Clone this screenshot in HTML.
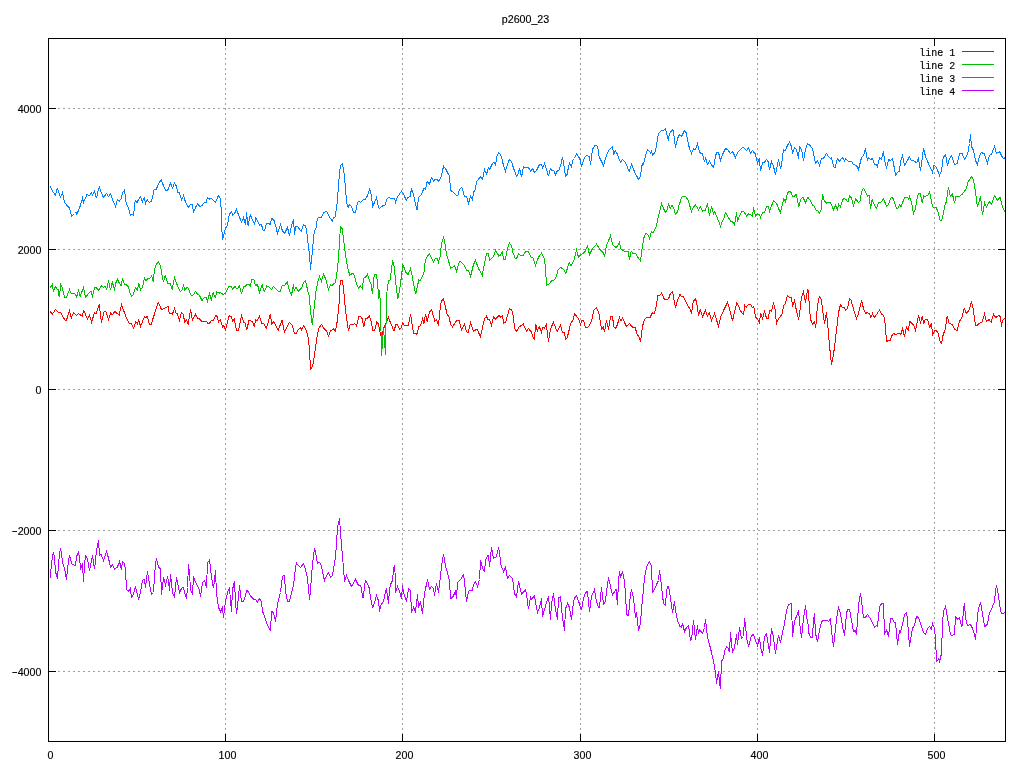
<!DOCTYPE html>
<html lang="en"><head><meta charset="utf-8"><title>p2600_23</title>
<style>
html,body{margin:0;padding:0;background:#fff;}
body{width:1024px;height:768px;overflow:hidden;position:relative;font-family:"Liberation Sans",sans-serif;}
svg{position:absolute;left:0;top:0;display:block;}
.t{font-family:"Liberation Sans",sans-serif;font-size:10.67px;fill:#000;stroke:#000;stroke-width:0.15px;}
.k{font-family:"Liberation Mono",monospace;font-size:10px;fill:#000;stroke:#000;stroke-width:0.15px;}
</style></head><body>
<svg width="1024" height="768" viewBox="0 0 1024 768" role="img" aria-label="p2600_23 line chart">
<rect x="0" y="0" width="1024" height="768" fill="#fff"/>
<g id="grid" stroke="#a0a0a0" stroke-width="1" stroke-dasharray="2 3" shape-rendering="crispEdges" fill="none">
<line x1="225.5" y1="38.0" x2="225.5" y2="741.0"/>
<line x1="402.5" y1="38.0" x2="402.5" y2="741.0"/>
<line x1="580.5" y1="38.0" x2="580.5" y2="741.0"/>
<line x1="757.5" y1="38.0" x2="757.5" y2="741.0"/>
<line x1="934.5" y1="97.0" x2="934.5" y2="741.0"/>
<line x1="48.0" y1="108.5" x2="1005.0" y2="108.5"/>
<line x1="48.0" y1="249.5" x2="1005.0" y2="249.5"/>
<line x1="48.0" y1="389.5" x2="1005.0" y2="389.5"/>
<line x1="48.0" y1="530.5" x2="1005.0" y2="530.5"/>
<line x1="48.0" y1="671.5" x2="1005.0" y2="671.5"/>
</g>
<g id="series" shape-rendering="crispEdges">
<polyline fill="none" stroke="#ff0000" stroke-width="1" stroke-linejoin="miter" points="50.2,311.0 52.2,314.4 55.5,309.5 58.2,312.2 60.8,312.8 65.0,320.2 66.5,320.2 69.5,310.5 71.2,318.2 73.5,312.8 76.5,315.2 78.5,313.5 82.2,316.2 83.8,310.5 87.5,319.2 89.5,314.8 91.5,322.2 94.5,312.8 96.2,313.8 99.2,304.5 101.5,322.5 104.2,311.5 105.8,311.8 108.5,319.5 110.8,312.8 112.2,315.0 114.8,311.5 119.2,315.2 121.5,304.5 126.2,317.5 129.2,323.2 131.2,323.8 133.5,328.2 135.8,321.5 137.5,323.8 138.8,319.8 140.5,326.5 144.5,316.8 145.8,317.5 147.2,316.5 149.5,324.2 151.2,324.2 158.2,302.5 161.5,309.5 165.0,308.0 168.5,306.5 169.2,314.0 171.0,312.8 172.5,314.0 174.5,308.5 176.2,313.5 177.5,314.0 179.5,320.5 181.2,312.8 183.0,313.5 184.8,322.2 186.5,319.8 188.2,324.0 190.5,309.5 192.5,320.2 195.5,314.5 197.8,318.8 199.2,318.5 201.5,321.2 206.5,321.2 208.0,323.5 209.5,323.2 211.5,320.5 213.2,320.8 215.8,315.5 217.0,316.5 218.5,321.8 220.2,319.8 222.8,327.0 223.8,325.8 225.5,329.5 229.2,315.8 231.2,316.5 232.8,321.5 234.2,319.0 236.5,330.2 238.5,330.2 241.5,315.5 243.8,322.5 245.0,322.8 246.8,330.2 248.8,320.8 252.5,321.2 254.2,326.0 255.8,320.0 257.2,320.5 259.5,316.5 261.8,323.2 264.0,324.0 266.5,328.2 270.2,314.5 271.8,323.8 273.2,321.5 275.0,323.8 278.2,330.2 282.0,320.5 284.5,332.2 289.2,322.5 292.0,325.0 294.5,333.2 296.0,333.5 298.0,330.0 300.5,327.5 301.8,330.0 303.5,325.5 305.8,329.5 307.5,334.0 308.8,342.5 309.5,350.0 310.5,369.5 312.8,365.5 314.5,355.0 315.8,345.0 317.5,333.8 319.0,328.0 321.5,324.5 323.8,328.2 326.5,331.0 328.5,336.0 330.5,331.0 333.5,328.8 335.5,331.0 337.2,321.5 339.2,302.5 340.2,280.5 342.5,280.5 343.8,291.2 345.2,307.5 346.5,317.5 348.5,331.0 350.0,324.8 353.0,324.5 354.8,323.8 356.5,325.8 358.8,316.5 360.8,316.8 362.2,318.8 363.8,327.0 365.5,318.2 367.2,318.8 369.2,315.8 371.0,321.2 372.8,330.2 374.5,330.8 376.8,321.8 378.5,324.2 380.0,332.0 381.5,338.0 383.5,328.8 385.5,323.8 388.5,317.5 391.2,324.5 394.0,331.0 396.0,324.2 397.5,324.8 399.5,329.2 401.0,328.0 402.5,323.0 404.2,325.2 408.5,325.2 410.5,313.8 411.8,322.5 413.5,333.0 416.8,334.2 419.0,326.5 420.5,325.5 422.5,319.0 424.0,323.5 425.5,313.8 427.2,321.5 429.5,312.2 431.5,309.5 433.0,315.0 434.8,320.8 436.5,319.5 438.5,325.5 440.5,305.0 441.5,301.2 443.5,298.5 444.8,304.0 447.0,314.0 449.0,317.2 450.8,324.8 452.5,326.8 456.8,320.2 459.2,320.5 461.5,330.2 464.5,324.5 466.5,331.5 468.2,332.5 470.5,322.5 473.5,331.0 477.0,329.2 480.5,336.5 484.5,318.8 486.5,316.2 488.0,319.8 489.5,320.0 491.5,325.2 493.5,316.8 495.2,319.2 498.8,315.5 500.8,317.2 502.2,315.5 503.8,323.2 505.5,322.5 509.5,308.5 511.5,309.8 512.8,313.8 514.8,328.8 516.5,331.5 519.0,327.2 523.2,324.0 526.5,331.2 528.5,328.5 531.2,331.8 534.2,339.8 535.8,324.5 537.2,331.0 539.2,326.5 541.5,332.2 542.8,327.2 544.5,328.0 546.2,324.5 548.5,341.5 550.5,328.8 552.0,325.5 553.5,322.5 557.2,331.5 560.5,325.5 562.5,332.2 564.2,332.5 565.8,339.5 567.2,337.8 570.8,323.2 573.0,320.2 574.5,313.5 578.5,319.0 580.5,324.5 582.0,320.2 583.5,320.8 585.5,327.2 587.2,327.8 589.5,325.2 591.5,321.0 593.8,310.5 596.5,307.5 599.0,313.8 601.5,329.2 603.2,327.2 604.5,331.5 606.5,320.2 608.5,329.5 610.5,316.5 612.5,316.5 613.8,326.5 615.5,328.5 617.2,325.2 619.5,317.5 621.0,320.8 622.5,318.2 626.5,326.5 629.5,323.5 633.2,328.0 635.2,327.5 637.0,334.0 639.0,337.0 640.5,341.5 642.5,326.5 644.2,320.0 646.5,317.5 650.2,317.2 652.5,312.5 654.0,314.2 655.5,310.0 658.0,295.5 659.2,296.0 661.5,293.2 664.5,299.5 668.5,299.0 670.2,294.0 672.5,291.5 675.5,307.5 678.0,298.8 680.0,294.5 681.5,296.8 683.0,295.8 685.0,299.8 688.2,306.5 690.5,309.5 691.5,313.5 693.2,301.5 695.5,298.5 696.8,303.5 698.5,315.5 700.2,309.5 702.5,316.5 705.5,310.5 707.5,316.2 709.5,312.8 711.5,320.5 714.5,313.5 716.2,318.8 718.5,326.5 720.5,317.5 723.5,310.5 727.5,302.5 729.2,307.5 732.5,320.5 734.8,311.2 736.8,303.2 738.2,305.0 740.2,310.5 743.5,314.5 744.8,305.5 746.2,307.2 748.5,304.2 750.5,304.2 752.5,307.8 753.8,306.5 755.5,317.2 757.5,319.2 759.2,322.5 760.8,313.5 762.5,318.5 764.5,311.5 766.5,318.2 768.2,318.5 769.8,310.5 771.5,311.2 773.5,303.5 774.8,307.2 776.5,323.5 778.8,318.5 782.2,313.8 783.8,305.2 785.5,303.5 787.5,295.5 789.2,297.2 791.2,297.5 792.8,305.5 794.5,300.5 796.0,308.5 798.5,319.5 799.8,312.5 800.8,302.5 802.2,295.0 803.5,291.8 805.5,302.5 807.5,290.0 808.5,291.2 809.5,310.0 810.8,320.0 812.5,324.2 814.5,321.5 815.8,327.5 816.8,312.5 818.2,301.2 819.5,296.5 821.2,299.2 822.5,308.8 824.5,324.2 826.5,312.5 827.5,322.5 828.8,337.5 830.2,352.5 831.5,364.5 833.2,356.2 834.8,345.0 836.5,330.0 838.5,312.5 840.5,304.5 842.2,307.0 844.2,307.5 845.8,310.5 847.5,308.5 849.5,298.5 851.2,300.5 854.5,313.0 856.5,318.5 858.5,313.5 861.5,300.5 863.8,309.5 865.5,313.2 867.5,312.8 869.5,314.0 870.8,317.5 872.5,313.5 874.2,317.5 876.5,314.5 879.5,310.2 881.8,314.2 883.8,315.5 885.0,322.5 886.5,341.2 890.2,340.5 892.0,335.5 893.5,333.5 895.5,334.5 899.2,333.5 900.8,334.2 902.5,328.5 904.5,336.5 906.5,326.8 908.2,329.8 909.8,321.5 913.5,324.8 915.5,330.5 918.5,315.5 920.5,322.5 922.2,316.5 923.8,323.2 925.2,319.5 927.5,319.5 929.8,327.2 931.5,322.8 932.5,335.5 934.5,331.0 936.2,330.2 938.2,333.5 940.0,341.2 941.5,343.5 943.2,334.5 945.2,329.5 947.2,316.2 949.2,323.2 952.2,324.5 954.5,329.0 957.2,330.5 959.5,321.2 961.5,318.5 964.2,308.2 966.2,313.5 969.2,310.0 971.5,301.5 973.2,308.8 975.5,325.5 977.5,325.2 979.2,323.2 982.0,322.5 984.5,314.2 986.5,321.5 989.0,319.5 991.2,322.2 993.5,314.2 995.8,317.5 998.8,315.5 1000.5,317.0 1001.5,326.5 1002.5,320.2 1005.0,318.2"/>
<polyline fill="none" stroke="#00c000" stroke-width="1" stroke-linejoin="miter" points="50.2,288.0 52.2,284.5 53.5,291.0 55.2,286.2 56.8,289.0 58.2,289.5 59.2,297.2 60.8,284.5 62.2,287.5 64.5,297.0 66.5,297.0 69.5,289.5 71.5,293.8 75.0,293.8 76.5,297.2 78.5,290.5 80.2,296.5 83.5,287.5 85.5,297.2 89.2,292.8 91.0,291.5 92.5,296.2 94.5,287.5 96.2,287.5 98.5,290.2 101.2,285.8 103.5,287.2 105.0,286.5 106.8,289.2 108.5,280.5 110.5,290.2 112.2,282.0 114.5,289.2 115.8,283.0 117.5,279.5 121.0,286.2 122.5,278.0 124.5,284.5 126.2,284.8 128.2,286.5 130.0,292.8 131.8,296.5 133.5,294.0 135.5,287.5 137.2,290.0 138.8,283.8 140.5,289.8 142.5,287.5 144.5,278.0 145.8,280.8 147.5,278.8 149.5,278.5 151.8,275.8 153.2,282.0 154.5,268.8 156.5,264.2 158.5,262.2 160.5,266.2 162.0,275.2 163.5,282.2 165.2,274.8 167.5,283.2 169.8,283.0 172.2,289.2 174.5,277.8 176.2,282.5 178.2,287.5 180.2,291.5 181.8,290.5 183.5,285.8 184.8,289.8 187.2,287.5 188.5,288.2 190.8,295.0 193.0,295.2 195.5,291.5 197.8,294.5 199.5,295.5 202.0,300.5 204.2,297.5 206.0,297.5 207.5,301.2 209.5,293.5 211.2,300.0 213.2,292.8 215.2,297.5 216.8,291.8 219.0,293.2 220.5,292.5 222.8,294.2 225.0,293.8 229.0,286.5 231.0,286.5 232.5,289.2 234.8,286.5 236.5,288.2 238.0,288.2 239.5,285.8 241.5,294.2 243.5,287.0 245.0,286.5 247.0,284.2 248.8,284.2 250.2,286.0 252.0,279.2 253.8,279.2 255.5,285.5 257.5,284.5 259.5,292.5 262.2,284.8 264.2,291.8 266.8,285.8 268.5,286.5 271.5,289.5 273.5,286.5 275.8,288.5 278.5,291.5 280.5,291.2 282.2,285.2 284.2,286.0 287.2,281.8 289.5,290.5 291.5,295.2 293.5,284.5 294.2,290.5 295.5,288.5 296.0,287.2 298.2,291.2 301.5,288.2 303.5,282.8 305.5,280.5 307.5,289.8 309.2,296.0 310.5,311.0 312.2,325.0 314.5,304.8 316.0,291.0 317.5,283.0 319.5,276.5 321.5,281.2 323.5,274.2 326.0,279.8 328.5,289.5 330.5,285.0 332.2,285.2 335.5,282.5 337.2,271.0 338.5,258.5 339.5,241.0 340.5,226.5 342.0,228.5 343.2,236.0 344.5,247.2 346.5,261.0 348.5,271.0 349.8,274.8 353.0,273.2 354.5,276.2 356.5,283.5 358.5,288.2 360.5,286.2 362.2,288.5 363.8,278.2 365.5,277.2 367.5,274.2 369.5,281.0 371.2,284.5 372.5,294.2 374.2,274.5 376.5,274.5 377.8,286.0 378.8,298.5 379.5,289.8 380.5,305.0 381.5,355.8 383.5,328.5 385.5,354.8 386.5,296.0 387.5,287.2 388.5,281.0 390.2,280.0 392.5,260.5 394.2,266.8 395.8,283.5 397.8,298.5 399.5,291.0 401.8,273.5 402.8,264.2 405.8,272.2 408.0,274.5 410.5,268.5 412.2,276.0 414.0,286.0 415.8,294.2 417.5,286.0 418.8,279.8 420.5,280.5 424.0,272.5 425.2,261.0 427.5,256.2 429.5,254.2 431.5,257.8 433.5,262.2 435.2,258.8 437.0,258.5 438.5,262.2 440.2,256.0 441.5,243.5 443.5,237.2 444.8,242.2 446.5,254.8 448.5,260.5 450.5,268.2 452.5,267.2 454.5,265.5 456.5,271.2 459.5,261.2 461.5,262.5 463.5,264.2 466.5,270.0 468.5,270.8 470.5,276.5 473.5,264.5 475.5,260.5 478.5,268.5 482.2,275.5 484.5,263.5 486.5,253.2 488.5,253.2 489.5,260.2 493.5,256.5 495.5,250.2 498.8,256.0 500.5,255.0 502.2,252.0 503.8,259.2 505.5,259.2 507.5,247.8 509.5,243.2 511.5,246.0 513.0,253.0 515.2,258.2 516.8,258.0 518.5,253.5 520.2,255.2 523.5,255.2 525.5,251.8 528.2,251.8 531.0,256.8 533.2,258.2 535.5,265.2 538.5,257.2 541.5,253.2 544.2,258.0 545.5,267.2 546.5,285.2 549.0,284.0 552.0,280.5 554.5,279.8 556.2,277.0 558.0,270.2 560.5,267.2 563.5,269.5 565.8,273.5 569.2,262.5 571.2,265.8 574.0,260.2 576.5,250.2 578.5,257.2 581.5,254.2 584.5,252.5 587.5,246.2 589.5,254.5 592.5,248.5 596.5,244.2 600.5,250.2 603.5,253.2 604.5,256.8 606.5,245.5 608.5,241.0 610.5,235.2 612.5,244.5 614.5,246.5 616.5,247.5 619.5,242.2 620.5,248.5 624.5,251.5 628.2,251.5 629.5,259.5 631.2,251.2 633.2,253.8 635.5,253.2 638.2,257.8 640.5,260.8 642.5,245.8 644.2,236.5 645.5,233.5 647.8,234.5 649.5,238.5 651.5,231.8 652.8,232.8 656.2,226.8 657.8,218.5 659.2,213.8 661.5,203.5 663.5,208.5 665.5,212.5 667.5,209.5 668.5,203.5 670.2,208.8 672.2,205.2 674.0,209.0 675.5,214.5 677.5,212.0 679.5,203.2 680.0,202.5 681.5,197.2 683.8,196.2 686.2,197.2 688.0,200.0 689.8,205.8 691.5,211.5 693.2,207.5 695.5,205.2 697.5,207.2 698.5,210.2 700.2,206.8 702.5,211.2 705.5,210.0 707.5,203.5 709.5,215.5 711.5,206.5 713.5,214.0 714.8,211.5 717.5,218.5 720.5,226.2 722.5,220.5 723.5,219.5 725.5,212.5 728.5,217.5 730.5,221.2 732.5,221.5 734.5,225.2 736.5,212.5 737.5,220.5 741.8,211.2 743.5,211.2 746.8,216.2 748.5,213.8 750.5,214.8 752.5,216.5 753.5,207.5 755.5,216.2 757.5,214.0 759.2,214.5 760.5,217.5 762.5,213.0 764.5,212.0 766.5,206.8 768.5,206.5 769.5,211.5 773.5,200.5 776.5,203.2 778.8,209.2 780.5,212.5 783.8,198.8 785.5,201.8 787.5,193.2 789.5,191.2 791.2,192.8 793.0,197.2 796.2,194.5 798.8,206.5 800.5,199.8 802.8,197.2 805.5,202.5 808.0,197.2 809.8,199.8 812.5,205.0 814.5,206.5 816.2,210.2 818.0,211.2 819.5,213.5 821.2,209.8 822.5,194.2 824.2,200.8 826.5,203.2 828.8,202.2 830.5,202.8 833.5,209.5 835.5,205.5 837.5,209.5 838.5,203.8 840.5,207.2 842.5,200.0 844.2,198.0 846.2,199.8 848.0,202.2 849.5,195.8 851.2,197.8 853.5,205.2 855.8,198.8 858.5,202.5 860.2,200.5 861.5,191.8 863.5,188.5 865.5,191.8 867.5,196.2 869.2,195.5 870.5,208.8 872.2,199.5 874.5,205.5 876.5,208.2 878.8,202.0 881.2,202.0 883.5,198.5 886.5,206.5 888.5,204.5 890.5,198.2 892.5,197.2 894.2,201.5 896.5,208.5 898.5,207.8 899.5,205.0 901.2,206.5 904.5,197.5 907.5,197.2 908.8,199.5 909.5,196.5 911.5,202.5 913.5,213.5 915.5,208.5 917.5,196.2 918.5,193.2 920.5,193.8 922.2,203.2 923.5,195.8 925.2,196.2 927.5,195.8 929.5,191.8 930.5,196.2 932.5,206.5 934.2,207.8 936.2,207.8 937.8,211.0 939.8,219.8 941.5,220.8 943.2,214.5 945.0,205.2 946.5,201.2 947.5,193.8 948.5,187.2 949.5,193.2 950.5,196.2 952.5,194.2 954.5,203.2 955.8,196.8 959.5,196.5 962.2,194.2 964.8,190.8 966.5,187.8 967.8,182.2 969.8,179.2 971.5,176.5 973.5,180.0 975.2,190.5 977.5,207.2 980.5,196.5 982.5,215.2 984.5,202.5 986.5,207.0 989.5,201.5 991.5,204.2 994.5,195.5 997.5,200.2 1000.2,197.5 1002.5,207.5 1005.0,211.5"/>
<polyline fill="none" stroke="#0080ff" stroke-width="1" stroke-linejoin="miter" points="50.2,186.2 52.5,191.0 55.5,195.2 57.2,188.2 59.2,193.5 60.5,197.2 62.5,192.5 64.5,202.5 66.5,204.8 69.5,207.8 71.5,216.2 74.5,213.5 75.8,212.2 76.8,214.2 79.5,208.2 82.5,198.2 83.5,202.5 87.0,194.5 89.5,195.5 91.5,192.5 92.5,195.0 94.5,191.5 96.5,198.2 97.8,191.8 99.5,187.2 101.5,193.2 103.5,197.5 106.5,193.5 108.5,196.5 110.5,193.5 112.5,199.5 115.5,206.5 117.5,199.5 119.2,201.2 121.0,199.2 122.5,192.5 124.5,190.2 126.2,203.8 128.2,207.2 130.5,215.5 132.0,213.8 133.5,215.5 135.2,200.5 137.0,202.5 140.2,196.5 142.5,201.5 144.2,197.5 145.5,203.5 147.2,199.8 149.5,202.5 151.5,201.2 154.2,189.5 156.2,189.5 159.2,182.5 161.5,180.2 163.5,186.0 165.5,190.2 167.5,190.2 168.0,189.5 170.5,183.2 172.5,188.2 174.5,183.2 176.0,185.5 177.8,192.5 179.5,192.8 181.5,200.2 183.5,195.5 185.5,202.2 188.5,207.5 190.5,204.2 192.2,204.2 193.5,212.2 195.5,207.5 197.5,204.2 199.8,206.5 201.8,205.8 204.2,202.8 206.2,202.5 207.5,197.5 209.5,199.0 211.2,198.2 215.5,202.2 218.5,195.5 220.2,198.2 221.2,209.2 221.8,228.8 222.5,239.5 223.8,235.0 225.5,228.2 227.5,225.2 229.2,214.5 231.5,211.5 232.5,215.0 234.5,213.5 236.5,209.5 239.2,216.5 241.5,222.2 243.5,217.5 245.5,225.2 246.5,212.5 248.2,226.2 250.2,214.5 252.5,220.2 254.5,224.2 255.8,217.8 259.5,225.0 261.5,224.8 263.2,230.5 264.5,230.5 266.5,223.5 268.5,223.2 270.2,224.5 271.5,218.5 273.8,219.8 275.5,225.2 277.5,233.5 280.5,224.5 282.5,231.0 284.5,233.5 287.5,227.5 289.5,235.5 291.5,225.0 293.5,219.5 294.5,234.5 295.5,228.5 296.0,225.8 297.8,227.0 301.2,231.2 303.5,224.5 305.5,225.8 306.5,230.0 307.5,238.2 308.5,247.0 309.5,254.5 310.5,269.5 311.5,259.5 312.5,250.8 313.5,237.0 314.5,231.0 316.0,228.2 317.5,218.2 319.5,217.2 321.5,217.2 323.5,213.0 326.5,211.2 329.5,217.0 332.2,221.2 333.5,217.5 335.2,217.0 336.5,208.2 337.5,199.5 338.5,185.8 339.5,172.0 340.5,165.8 342.5,163.5 343.5,169.5 344.5,177.0 345.5,188.2 346.5,202.0 348.5,208.2 349.2,204.5 351.2,206.5 353.8,212.5 355.5,212.5 357.5,203.0 358.5,201.5 360.5,202.2 363.5,199.5 365.5,199.0 367.5,195.8 369.5,189.5 370.8,192.2 372.8,206.5 376.5,197.5 378.5,207.5 379.5,208.2 382.5,206.0 385.2,205.0 386.8,199.2 388.5,197.5 391.0,198.5 394.8,198.5 395.5,202.2 397.5,196.8 401.5,191.2 403.5,193.5 406.2,200.5 408.2,197.2 410.2,196.5 411.5,188.5 413.5,194.5 415.5,204.0 417.2,210.2 418.5,197.5 420.5,195.8 423.5,189.5 424.0,188.5 425.5,189.2 427.2,181.5 429.5,184.2 431.5,177.5 433.5,181.0 435.2,179.2 437.0,179.5 438.8,181.5 440.5,178.5 441.8,174.2 443.5,166.2 445.5,168.5 447.5,172.5 449.5,176.2 450.5,190.5 452.5,191.5 456.5,195.5 457.8,195.5 459.5,189.5 461.5,187.5 462.5,189.2 464.5,196.5 466.5,196.5 468.5,203.2 470.5,196.5 472.5,200.2 473.5,192.5 475.5,189.0 476.5,181.8 478.5,179.0 480.5,176.8 482.5,179.2 484.5,169.5 486.5,174.2 488.5,167.8 489.5,169.5 492.5,163.5 494.5,162.2 495.5,166.2 496.5,157.5 498.5,152.5 500.5,154.5 501.5,157.0 503.5,165.5 505.5,171.2 507.5,164.0 509.5,159.5 511.5,161.5 513.5,168.2 516.5,176.2 517.5,175.5 519.5,168.2 521.5,177.2 523.5,167.0 524.8,167.5 528.5,167.5 530.5,171.2 532.5,168.5 534.5,172.5 536.5,170.5 539.5,164.5 541.5,164.5 542.5,168.2 544.5,163.5 546.5,169.2 548.5,176.2 550.2,168.8 552.0,170.5 553.8,170.8 555.5,174.5 557.5,170.5 559.2,169.8 560.8,164.5 562.5,157.5 564.0,165.8 565.5,176.2 567.2,174.5 568.5,166.5 569.5,163.5 571.5,167.2 572.5,160.2 574.5,158.5 576.5,153.5 578.8,157.0 580.5,160.5 581.5,166.5 584.5,157.5 586.5,155.2 589.5,156.5 590.5,164.5 592.5,149.5 594.5,145.8 596.5,145.2 597.8,147.5 599.2,157.0 603.5,165.5 606.5,155.2 609.5,149.2 612.5,146.5 613.8,154.5 615.2,150.5 617.0,153.5 620.5,162.5 622.5,159.5 625.5,162.5 628.5,170.2 629.5,171.2 631.5,164.2 632.5,166.5 635.5,174.5 636.5,175.5 638.5,179.5 640.5,176.5 641.5,167.5 642.5,163.5 643.5,164.5 645.5,155.5 647.5,149.5 650.5,152.8 651.5,151.0 652.8,155.5 655.5,150.8 656.5,145.5 658.5,133.5 661.5,130.5 663.5,130.5 665.5,128.5 667.5,137.5 668.5,139.5 669.5,133.5 672.5,129.5 673.5,131.5 675.5,147.5 677.5,138.5 679.5,134.5 680.0,135.2 681.5,136.5 683.5,132.5 684.8,130.2 686.5,133.5 688.2,143.5 689.8,149.5 691.5,153.5 693.5,148.8 695.5,149.5 697.5,143.5 699.2,151.0 700.8,153.8 702.5,153.5 704.5,162.2 705.5,157.5 707.5,164.5 709.5,161.2 711.5,164.8 713.5,167.5 715.5,156.5 716.5,152.5 718.5,152.5 720.5,160.5 722.5,154.5 725.5,148.5 727.5,149.5 730.5,153.5 732.5,151.5 735.5,157.5 737.5,152.5 739.5,150.5 742.5,147.2 744.5,148.2 746.5,150.5 748.5,147.5 750.5,153.5 752.5,150.5 755.5,154.2 757.5,163.5 759.2,158.5 760.5,170.5 762.5,162.8 764.5,162.2 766.5,159.5 768.2,161.8 769.5,169.5 771.5,161.5 773.5,166.5 775.5,174.5 778.5,159.5 780.5,168.5 781.5,164.5 783.5,149.8 785.2,150.5 787.5,145.5 789.5,142.2 791.5,146.5 792.5,153.5 794.5,147.5 796.5,149.5 798.5,158.5 799.5,146.5 801.5,149.5 803.5,160.5 805.5,149.5 807.5,143.5 810.0,145.5 812.5,148.5 813.8,154.5 815.5,163.5 817.5,160.5 819.5,165.5 821.5,158.5 823.5,158.5 826.5,153.5 828.5,156.5 830.5,158.5 831.5,157.5 833.5,166.5 835.2,167.5 837.5,158.5 839.2,161.5 842.5,157.5 844.5,161.2 845.5,158.5 848.5,161.2 851.5,161.5 853.5,164.5 856.5,165.5 858.5,169.5 861.5,157.5 863.5,155.5 865.5,148.5 867.5,160.5 868.5,157.5 870.5,159.5 872.5,158.5 874.5,164.5 876.5,164.5 877.5,166.5 879.5,157.5 881.5,159.5 883.5,151.5 884.5,159.5 886.5,168.5 888.5,159.5 890.5,160.5 892.5,158.5 893.5,163.5 895.5,175.2 897.5,172.2 899.5,171.2 900.5,161.5 902.5,155.5 904.5,165.5 909.5,156.8 911.5,160.8 913.5,160.5 916.5,162.8 918.5,158.5 920.5,170.5 922.5,156.5 923.5,148.5 925.5,156.5 927.5,161.5 930.5,167.8 932.5,172.5 934.0,165.0 936.5,167.5 939.5,175.5 941.5,170.5 943.2,157.5 945.5,154.5 947.5,165.5 949.5,158.5 951.5,155.5 954.5,164.5 957.2,163.5 959.5,153.8 962.0,153.5 964.5,159.5 967.5,154.5 969.5,143.5 970.5,134.2 971.5,146.5 973.5,150.5 975.5,160.5 977.5,164.5 979.5,155.5 981.5,152.5 984.2,153.8 987.5,163.5 989.5,155.5 991.5,154.2 994.5,146.5 996.5,153.5 999.5,151.5 1002.5,157.5 1004.2,158.5 1005.2,156.5"/>
<polyline fill="none" stroke="#c000ff" stroke-width="1" stroke-linejoin="miter" points="50.2,578.0 51.5,564.2 52.5,555.5 53.5,552.5 54.5,558.0 55.5,571.8 57.5,578.5 58.5,564.2 59.5,554.2 60.5,548.5 61.5,553.0 62.5,562.5 64.5,568.2 66.5,579.5 67.5,569.2 68.5,560.5 69.5,555.5 71.5,563.2 72.5,564.5 75.5,565.5 76.5,556.5 78.5,552.5 79.5,558.0 80.5,568.5 82.5,564.5 83.5,581.5 84.5,565.5 85.5,555.8 87.5,558.5 89.5,570.5 90.5,565.5 92.5,555.5 94.5,569.2 95.5,560.5 96.5,550.5 98.5,540.2 99.5,555.5 101.2,554.5 103.5,560.5 106.5,551.5 108.5,558.0 110.5,567.5 112.5,564.5 114.5,569.5 117.5,567.0 119.5,561.5 121.5,569.5 122.5,561.5 124.5,563.5 125.5,570.5 126.5,589.2 128.5,591.5 130.2,588.5 131.5,597.2 133.5,594.0 135.5,586.5 138.5,599.5 140.5,592.5 142.5,580.5 144.5,579.2 145.5,587.5 147.5,571.5 149.5,584.2 151.5,594.2 153.5,592.5 154.5,575.5 155.5,564.2 156.5,558.5 158.5,567.5 160.5,568.5 161.5,594.5 163.5,577.5 165.5,585.2 167.5,577.5 168.5,581.2 169.5,591.2 170.5,574.2 172.5,592.5 174.5,597.5 176.5,577.2 177.5,582.5 179.5,592.5 181.5,588.5 183.5,587.2 184.5,592.5 186.5,598.5 187.5,587.5 188.5,564.2 189.5,572.5 190.5,590.0 192.5,593.5 193.5,576.5 195.5,582.5 197.5,585.5 199.5,590.5 200.5,596.5 202.5,582.5 204.5,580.5 206.5,587.5 207.5,562.5 209.5,560.2 210.5,567.5 211.5,577.5 213.5,588.2 215.5,570.2 216.5,593.8 218.5,607.5 220.5,611.5 222.5,607.5 223.5,617.5 225.5,601.2 227.5,592.5 229.5,587.5 230.5,601.2 231.5,611.5 232.5,589.5 234.5,581.5 235.5,602.5 236.5,613.5 237.5,606.2 239.5,585.5 241.5,601.5 243.5,601.2 245.5,596.2 246.5,590.5 248.5,591.5 250.5,596.2 253.5,599.2 255.5,599.5 257.5,602.2 259.5,598.5 261.2,601.2 262.5,611.2 264.5,616.5 266.5,622.5 268.5,627.5 270.5,630.5 271.5,611.5 273.5,612.5 275.5,621.5 277.5,603.8 280.5,592.5 282.5,576.2 284.5,575.5 285.5,591.2 287.5,601.2 289.5,601.2 291.5,592.5 293.5,585.0 295.5,567.5 296.5,562.8 297.5,564.5 300.5,567.5 303.5,563.5 305.5,569.8 307.5,578.5 308.5,588.5 309.5,599.5 310.5,591.0 311.5,576.0 312.5,564.8 313.5,554.8 314.5,548.5 315.5,552.2 317.5,563.2 319.5,562.5 321.5,565.8 322.8,573.5 324.5,580.5 326.5,575.5 328.5,572.5 330.5,577.5 332.5,575.2 333.5,568.5 335.5,557.2 336.5,543.5 337.5,527.2 339.5,518.5 340.5,532.2 341.5,546.0 342.5,556.0 343.5,568.5 344.5,581.5 346.5,575.5 348.5,580.5 351.5,586.5 355.5,579.5 358.5,585.5 360.0,585.5 361.5,588.2 362.5,597.5 363.5,597.5 364.5,585.5 365.5,580.5 368.5,585.5 369.5,589.5 370.5,597.5 372.5,607.5 373.5,605.8 376.5,595.5 378.5,600.8 379.5,611.5 380.5,605.8 383.5,601.5 385.5,591.5 386.5,589.5 388.5,603.5 389.5,589.5 390.5,584.5 392.5,580.5 393.5,569.5 394.5,565.2 395.5,579.5 395.5,592.5 397.5,586.5 399.5,591.5 401.5,598.5 402.5,585.5 403.5,592.5 406.5,601.5 408.5,588.5 410.5,590.8 411.5,612.5 413.5,607.5 415.5,611.5 417.5,594.5 418.5,606.5 420.5,602.5 422.5,613.5 424.5,593.5 425.5,589.0 427.5,579.5 429.5,589.5 431.5,586.5 433.5,588.2 434.5,595.5 436.5,583.5 438.5,592.5 440.5,576.5 441.5,566.5 443.5,554.2 444.5,559.5 445.5,565.8 447.5,573.2 449.5,580.8 450.5,598.5 452.5,597.5 455.5,591.5 456.5,598.5 457.5,582.5 460.5,579.5 463.5,574.5 464.5,581.5 465.5,592.2 466.5,601.5 468.5,591.5 469.5,590.5 472.5,590.5 473.5,584.5 475.5,581.5 477.5,586.5 479.5,579.5 480.5,560.5 482.5,568.2 484.5,571.5 485.5,560.5 487.5,555.5 488.5,555.5 489.5,566.5 491.5,547.5 493.5,558.5 496.5,556.5 498.5,547.5 499.5,551.5 500.5,562.8 501.5,566.5 503.5,571.5 505.5,567.5 507.5,578.5 509.5,575.5 512.5,578.5 513.5,585.2 514.5,593.5 516.5,597.2 518.5,581.5 519.5,585.2 521.5,594.5 525.5,589.5 526.5,594.5 528.5,609.2 530.5,597.5 531.5,599.5 534.5,595.5 535.5,602.5 537.5,612.5 539.5,607.5 541.5,598.5 542.5,616.5 544.5,609.5 546.5,602.5 548.5,596.5 550.5,619.5 551.5,603.5 553.5,593.5 554.5,601.5 555.5,609.5 557.5,619.5 558.5,597.8 560.5,596.5 562.5,617.8 564.5,630.5 565.5,609.0 567.5,603.5 569.5,607.5 571.5,619.5 573.5,601.5 575.0,597.5 576.5,595.5 578.5,601.0 581.5,610.2 583.5,598.5 585.5,592.5 587.5,591.5 589.5,611.5 591.5,596.5 594.5,589.5 596.5,601.5 598.5,607.5 599.5,607.5 601.5,587.5 603.5,604.5 605.5,601.5 606.5,591.5 608.5,577.5 610.5,586.5 612.5,595.2 614.5,591.5 616.0,589.0 617.5,604.5 618.5,580.8 619.5,571.5 620.5,577.0 622.5,572.5 623.5,575.8 624.5,582.0 625.5,593.2 626.5,614.5 628.5,615.5 629.5,604.5 630.5,594.5 631.5,589.5 633.5,598.2 635.5,618.2 636.5,612.5 638.5,630.5 640.5,623.2 641.5,609.5 642.5,599.5 643.5,588.2 644.5,578.2 645.5,572.0 647.5,564.5 649.5,561.5 651.5,566.5 652.5,592.5 654.5,589.5 656.5,584.5 658.5,580.5 659.5,570.5 660.5,577.0 661.5,587.0 663.5,603.5 665.5,605.5 666.5,591.5 667.5,586.5 668.5,586.5 670.5,597.5 672.5,613.2 674.5,601.5 675.5,609.5 676.5,616.5 678.5,623.2 680.0,626.5 681.5,627.5 682.5,623.5 684.5,631.5 686.5,627.5 688.5,625.5 690.5,640.5 691.5,639.5 693.5,620.5 695.5,639.5 697.5,625.5 698.5,633.8 699.5,629.5 702.5,633.5 704.5,627.5 705.5,619.5 706.5,627.5 707.5,637.5 709.5,644.5 711.5,652.5 713.5,661.2 714.5,667.5 715.5,672.5 716.5,683.5 718.5,671.5 719.5,682.5 720.5,688.5 721.5,661.2 723.5,658.5 724.5,651.2 726.5,646.5 727.5,647.2 729.5,651.5 730.5,632.5 732.5,652.5 734.5,647.5 736.5,634.5 737.5,644.5 739.5,627.5 741.5,638.2 743.5,636.5 744.5,618.5 745.5,624.5 746.5,637.5 748.5,646.5 751.5,635.5 753.5,634.5 755.5,640.5 757.5,645.5 759.5,637.5 760.5,646.5 762.5,655.5 764.5,636.5 766.5,633.5 769.5,652.5 771.5,628.5 773.5,637.5 775.5,653.5 778.5,635.5 780.5,643.2 782.5,632.5 784.5,623.8 786.5,610.5 788.5,604.5 791.5,603.5 792.5,636.5 794.5,621.5 797.5,613.5 798.5,610.5 800.5,631.2 801.5,637.5 803.5,618.8 805.5,605.5 807.5,623.5 808.0,623.5 809.0,633.5 810.5,637.2 812.5,637.2 813.5,619.8 814.5,613.5 815.5,633.5 817.5,641.5 819.5,630.5 821.5,621.5 823.5,620.5 826.5,620.2 828.5,621.5 830.5,618.5 831.5,630.5 833.5,646.5 835.5,628.5 837.5,612.2 838.5,607.5 840.5,613.5 842.5,626.5 844.5,635.5 846.5,613.5 847.5,609.5 849.5,609.5 851.5,620.5 853.5,631.5 855.5,630.5 856.5,634.5 858.5,606.0 859.5,598.5 860.5,593.5 861.5,599.8 862.5,610.5 863.5,617.5 865.5,617.2 867.5,614.5 869.5,617.5 870.5,618.5 874.5,627.5 876.5,625.5 877.5,626.0 879.5,607.2 881.5,603.5 883.5,603.5 884.5,633.5 886.5,629.8 888.5,636.5 890.5,618.5 892.5,618.5 894.2,622.5 895.5,622.5 897.5,644.5 899.5,630.5 900.5,632.2 903.5,620.5 904.5,614.2 906.5,612.5 907.5,619.8 909.5,646.5 912.5,628.5 914.5,624.8 916.5,616.5 918.5,617.5 920.5,623.5 923.5,632.5 925.5,634.5 927.5,628.5 929.5,626.5 931.5,629.5 932.5,623.5 934.5,628.5 935.5,638.5 936.5,661.5 938.5,659.2 939.5,661.5 941.5,653.5 942.5,623.5 943.5,611.5 945.5,606.5 946.5,612.2 948.5,623.5 950.5,634.5 951.5,635.5 954.5,634.2 955.5,616.5 957.5,619.2 959.5,617.5 961.5,626.5 962.5,624.8 963.5,608.5 964.5,603.5 965.5,618.5 967.5,625.5 970.5,624.5 972.5,628.5 974.5,634.5 975.5,639.5 977.5,616.5 978.5,608.5 980.5,602.5 982.5,613.5 984.5,626.5 986.5,625.5 987.5,623.5 989.5,612.5 991.5,609.5 993.5,603.5 994.5,602.5 995.5,590.5 996.5,585.5 997.5,589.8 999.5,603.5 1000.5,610.5 1001.5,613.2 1003.5,613.5 1005.0,612.2"/>
</g>
<g id="axes" stroke="#000" stroke-width="1" shape-rendering="crispEdges" fill="none">
<rect x="48.5" y="38.5" width="957.0" height="703.0"/>
<line x1="225.5" y1="741" x2="225.5" y2="734"/>
<line x1="225.5" y1="39" x2="225.5" y2="46"/>
<line x1="402.5" y1="741" x2="402.5" y2="734"/>
<line x1="402.5" y1="39" x2="402.5" y2="46"/>
<line x1="580.5" y1="741" x2="580.5" y2="734"/>
<line x1="580.5" y1="39" x2="580.5" y2="46"/>
<line x1="757.5" y1="741" x2="757.5" y2="734"/>
<line x1="757.5" y1="39" x2="757.5" y2="46"/>
<line x1="934.5" y1="741" x2="934.5" y2="734"/>
<line x1="934.5" y1="39" x2="934.5" y2="46"/>
<line x1="49" y1="108.5" x2="56" y2="108.5"/>
<line x1="1005" y1="108.5" x2="998" y2="108.5"/>
<line x1="49" y1="249.5" x2="56" y2="249.5"/>
<line x1="1005" y1="249.5" x2="998" y2="249.5"/>
<line x1="49" y1="389.5" x2="56" y2="389.5"/>
<line x1="1005" y1="389.5" x2="998" y2="389.5"/>
<line x1="49" y1="530.5" x2="56" y2="530.5"/>
<line x1="1005" y1="530.5" x2="998" y2="530.5"/>
<line x1="49" y1="671.5" x2="56" y2="671.5"/>
<line x1="1005" y1="671.5" x2="998" y2="671.5"/>
</g>
<g id="legend">
<text class="k" x="955.3" y="56" text-anchor="end">line 1</text>
<line x1="962" y1="51.5" x2="994" y2="51.5" stroke="#ff0000" stroke-width="1" shape-rendering="crispEdges"/>
<text class="k" x="955.3" y="69" text-anchor="end">line 2</text>
<line x1="962" y1="64.5" x2="994" y2="64.5" stroke="#00c000" stroke-width="1" shape-rendering="crispEdges"/>
<text class="k" x="955.3" y="82" text-anchor="end">line 3</text>
<line x1="962" y1="77.5" x2="994" y2="77.5" stroke="#0080ff" stroke-width="1" shape-rendering="crispEdges"/>
<text class="k" x="955.3" y="95" text-anchor="end">line 4</text>
<line x1="962" y1="90.5" x2="994" y2="90.5" stroke="#c000ff" stroke-width="1" shape-rendering="crispEdges"/>
</g>
<g id="labels">
<text class="t" x="41.4" y="113" text-anchor="end">4000</text>
<text class="t" x="41.4" y="254" text-anchor="end">2000</text>
<text class="t" x="41.4" y="394" text-anchor="end">0</text>
<text class="t" x="41.4" y="535" text-anchor="end"><tspan dy="-1" textLength="6" lengthAdjust="spacingAndGlyphs">-</tspan><tspan dy="1">2000</tspan></text>
<text class="t" x="41.4" y="676" text-anchor="end"><tspan dy="-1" textLength="6" lengthAdjust="spacingAndGlyphs">-</tspan><tspan dy="1">4000</tspan></text>
<text class="t" x="50.5" y="759" text-anchor="middle">0</text>
<text class="t" x="227.5" y="759" text-anchor="middle">100</text>
<text class="t" x="404.5" y="759" text-anchor="middle">200</text>
<text class="t" x="582.5" y="759" text-anchor="middle">300</text>
<text class="t" x="759.5" y="759" text-anchor="middle">400</text>
<text class="t" x="936.5" y="759" text-anchor="middle">500</text>
<text class="t" x="525.5" y="23" text-anchor="middle">p2600_23</text>
</g>
</svg></body></html>
